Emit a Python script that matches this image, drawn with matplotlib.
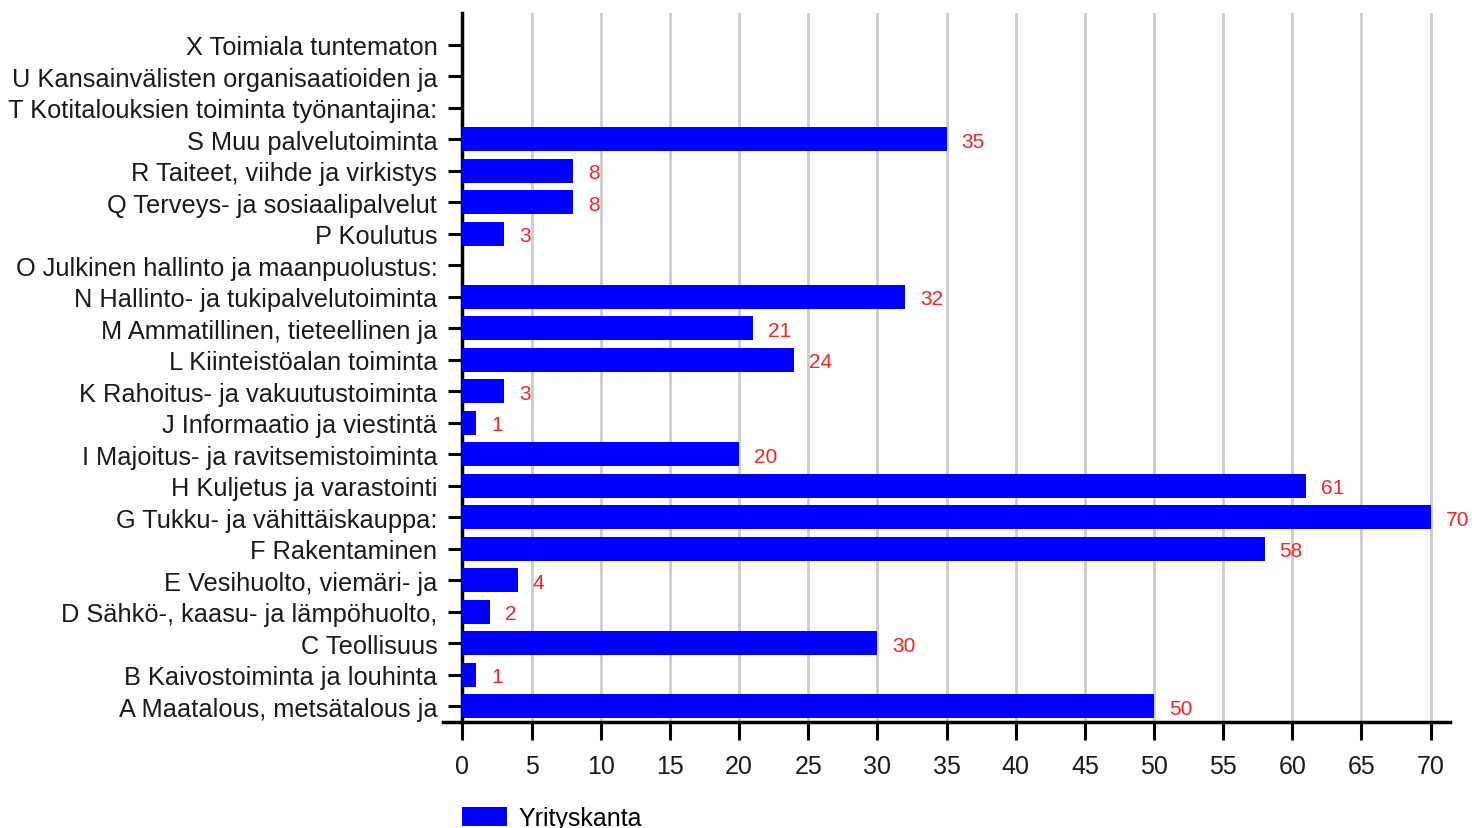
import numpy as np
import matplotlib.pyplot as plt

plt.rcParams['font.family'] = ['Liberation Sans', 'DejaVu Sans']

# categories from bottom to top
categories = [
    'A Maatalous, metsätalous ja',
    'B Kaivostoiminta ja louhinta',
    'C Teollisuus',
    'D Sähkö-, kaasu- ja lämpöhuolto,',
    'E Vesihuolto, viemäri- ja',
    'F Rakentaminen',
    'G Tukku- ja vähittäiskauppa:',
    'H Kuljetus ja varastointi',
    'I Majoitus- ja ravitsemistoiminta',
    'J Informaatio ja viestintä',
    'K Rahoitus- ja vakuutustoiminta',
    'L Kiinteistöalan toiminta',
    'M Ammatillinen, tieteellinen ja',
    'N Hallinto- ja tukipalvelutoiminta',
    'O Julkinen hallinto ja maanpuolustus:',
    'P Koulutus',
    'Q Terveys- ja sosiaalipalvelut',
    'R Taiteet, viihde ja virkistys',
    'S Muu palvelutoiminta',
    'T Kotitalouksien toiminta työnantajina:',
    'U Kansainvälisten organisaatioiden ja',
    'X Toimiala tuntematon',
]
values = [50, 1, 30, 2, 4, 58, 70, 61, 20, 1, 3, 24, 21, 32, None, 3, 8, 8, 35, None, None, None]
x_ticks = list(range(0, 75, 5))
series_name = 'Yrityskanta'

W, H = 1472, 829
fig = plt.figure(figsize=(W / 100, H / 100), dpi=100)
ax = fig.add_axes([443 / W, 1 - 723 / H, (1450 - 443) / W, (723 - 14) / H])

y = np.arange(len(categories))
vals = np.array([np.nan if v is None else v for v in values], dtype=float)
bars = ax.barh(y, np.nan_to_num(vals), height=0.76, color='#0000ff', zorder=3, label=series_name)

# value labels (skip empty categories)
for yi, v in zip(y, values):
    if v is None:
        continue
    ax.annotate(str(v), (v, yi), xytext=(15, -2), textcoords='offset pixels',
                ha='left', va='center', color='#ff2020', fontsize=15)

ax.set_xlim(-1.4, 71.4)
ax.set_ylim(-0.5, 22.0)
ax.spines['left'].set_position(('data', 0))
for s in ['top', 'right']:
    ax.spines[s].set_visible(False)
ax.spines['left'].set_linewidth(2.5)
ax.spines['bottom'].set_linewidth(2.5)

ax.set_xticks(x_ticks)
ax.set_xticklabels([str(t) for t in x_ticks], fontsize=18, color='#1a1a1a')
ax.set_yticks(y)
ax.set_yticklabels(categories, fontsize=18.3, color='#1a1a1a')
ax.tick_params(axis='x', length=13, width=2.2, pad=10)
ax.tick_params(axis='y', length=10, width=2.2, pad=8)

for t in x_ticks[1:]:
    ax.axvline(t, color='#cccccc', lw=2, zorder=1)

fig.legend(handles=[bars], labels=[series_name], loc='upper left',
           bbox_to_anchor=(452 / W, 1 - 797 / H), frameon=False, fontsize=18,
           handlelength=1.8, handleheight=0.8, handletextpad=0.45, borderaxespad=0)

fig.savefig('out.png', dpi=100)
